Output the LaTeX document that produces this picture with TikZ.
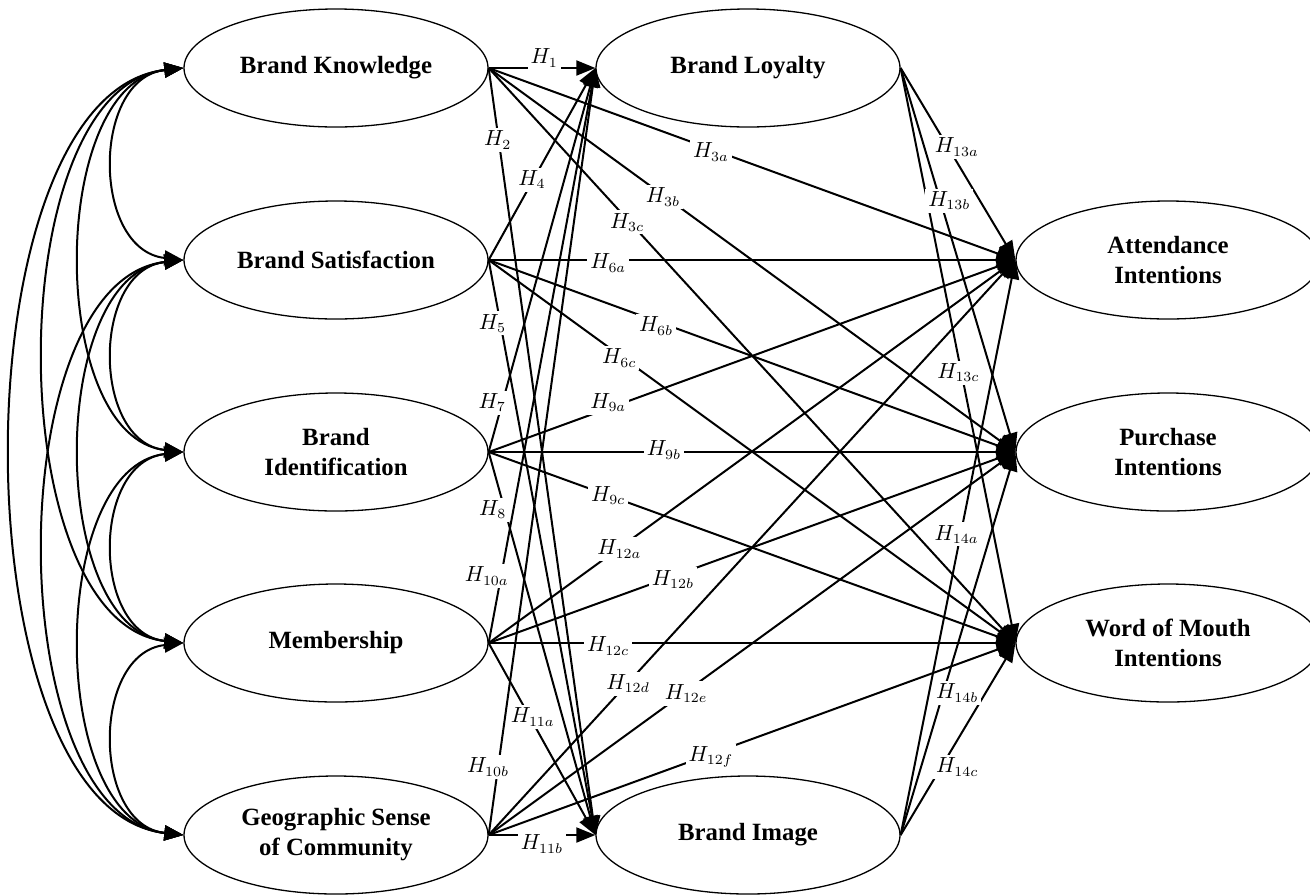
\documentclass[tikz,border=0pt]{standalone}
\usepackage{fontspec}
\setmainfont{Liberation Serif}
\usetikzlibrary{arrows.meta,shapes.geometric}
\begin{document}
\begin{tikzpicture}[x=0.5pt,y=-0.5pt,
  construct/.style={ellipse, draw, line width=0.65pt, minimum width=152pt,
    minimum height=59pt, inner sep=0pt, align=center,
    font=\bfseries\fontsize{12.4}{15}\selectfont},
  hyp/.style={line width=1pt, -{Triangle[length=9.5pt,width=7.5pt]}},
  cov/.style={line width=1pt,
    {Triangle[length=9.5pt,width=7.5pt]}-{Triangle[length=9.5pt,width=7.5pt]}},
  lab/.style={fill=white, inner sep=1.5pt, font=\fontsize{10.5}{12}\selectfont},
]
\useasboundingbox (0,0) rectangle (1310,895);

% constructs
\node[construct] (bk)  at (336,68)  {Brand Knowledge};
\node[construct] (bs)  at (336,260) {Brand Satisfaction};
\node[construct] (bid) at (336,452) {Brand\\Identification};
\node[construct] (mem) at (336,643) {Membership};
\node[construct] (geo) at (336,835) {Geographic Sense\\of Community};
\node[construct] (bl)  at (748,68)  {Brand Loyalty};
\node[construct] (bim) at (748,835) {Brand Image};
\node[construct] (att) at (1168,260) {Attendance\\Intentions};
\node[construct] (pur) at (1168,452) {Purchase\\Intentions};
\node[construct] (wom) at (1168,643) {Word of Mouth\\Intentions};

% correlations among the antecedents
\draw[cov] (bk.west)  .. controls +(-92,10) and +(-92,-10) .. (bs.west);
\draw[cov] (bs.west)  .. controls +(-92,10) and +(-92,-10) .. (bid.west);
\draw[cov] (bid.west) .. controls +(-92,10) and +(-92,-10) .. (mem.west);
\draw[cov] (mem.west) .. controls +(-92,10) and +(-92,-10) .. (geo.west);
\draw[cov] (bk.west)  .. controls +(-136,15) and +(-136,-15) .. (bid.west);
\draw[cov] (bs.west)  .. controls +(-136,15) and +(-136,-15) .. (mem.west);
\draw[cov] (bid.west) .. controls +(-136,15) and +(-136,-15) .. (geo.west);
\draw[cov] (bk.west)  .. controls +(-184,20) and +(-184,-20) .. (mem.west);
\draw[cov] (bs.west)  .. controls +(-184,20) and +(-184,-20) .. (geo.west);
\draw[cov] (bk.west)  .. controls +(-228,25) and +(-228,-25) .. (geo.west);

% hypothesised paths
\draw[hyp] (bk.east) -- coordinate[pos=.52]  (c1)   (bl.west);
\draw[hyp] (bk.east) -- coordinate[pos=.094] (c2)   (bim.west);
\draw[hyp] (bk.east) -- coordinate[pos=.422] (c3a)  (att.west);
\draw[hyp] (bk.east) -- coordinate[pos=.331] (c3b)  (pur.west);
\draw[hyp] (bk.east) -- coordinate[pos=.263] (c3c)  (wom.west);
\draw[hyp] (bs.east) -- coordinate[pos=.407] (c4)   (bl.west);
\draw[hyp] (bs.east) -- coordinate[pos=.11]  (c5)   (bim.west);
\draw[hyp] (bs.east) -- coordinate[pos=.227] (c6a)  (att.west);
\draw[hyp] (bs.east) -- coordinate[pos=.318] (c6b)  (pur.west);
\draw[hyp] (bs.east) -- coordinate[pos=.248] (c6c)  (wom.west);
\draw[hyp] (bid.east) -- coordinate[pos=.128] (c7)  (bl.west);
\draw[hyp] (bid.east) -- coordinate[pos=.151] (c8)  (bim.west);
\draw[hyp] (bid.east) -- coordinate[pos=.227] (c9a) (att.west);
\draw[hyp] (bid.east) -- coordinate[pos=.333] (c9b) (pur.west);
\draw[hyp] (bid.east) -- coordinate[pos=.227] (c9c) (wom.west);
\draw[hyp] (mem.east) -- coordinate[pos=.113] (c10a) (bl.west);
\draw[hyp] (mem.east) -- coordinate[pos=.385] (c11a) (bim.west);
\draw[hyp] (mem.east) -- coordinate[pos=.248] (c12a) (att.west);
\draw[hyp] (mem.east) -- coordinate[pos=.35]  (c12b) (pur.west);
\draw[hyp] (mem.east) -- coordinate[pos=.227] (c12c) (wom.west);
\draw[hyp] (geo.east) -- coordinate[pos=.0887] (c10b) (bl.west);
\draw[hyp] (geo.east) -- coordinate[pos=.5]   (c11b) (bim.west);
\draw[hyp] (geo.east) -- coordinate[pos=.265] (c12d) (att.west);
\draw[hyp] (geo.east) -- coordinate[pos=.375] (c12e) (pur.west);
\draw[hyp] (geo.east) -- coordinate[pos=.422] (c12f) (wom.west);
\draw[hyp] (bl.east)  -- coordinate[pos=.411] (c13a) (att.west);
\draw[hyp] (bl.east)  -- coordinate[pos=.346] (c13b) (pur.west);
\draw[hyp] (bl.east)  -- coordinate[pos=.53]  (c13c) (wom.west);
\draw[hyp] (bim.east) -- coordinate[pos=.523] (c14a) (att.west);
\draw[hyp] (bim.east) -- coordinate[pos=.371] (c14b) (pur.west);
\draw[hyp] (bim.east) -- coordinate[pos=.354] (c14c) (wom.west);

% hypothesis labels
\node[lab, shift={(0,-10)}] (l1)   at (c1)   {$H_{1}$};
\node[lab, shift={(-1,0)}]  (l2)   at (c2)   {$H_{2}$};
\node[lab, shift={(0,3)}]   (l3a)  at (c3a)  {$H_{3a}$};
\node[lab, shift={(0,2)}]   (l3b)  at (c3b)  {$H_{3b}$};
\node[lab, shift={(0,3)}]   (l3c)  at (c3c)  {$H_{3c}$};
\node[lab, shift={(0,-2)}]  (l4)   at (c4)   {$H_{4}$};
\node[lab, shift={(-8,0)}]  (l5)   at (c5)   {$H_{5}$};
\node[lab, shift={(0,3)}]   (l6a)  at (c6a)  {$H_{6a}$};
\node[lab, shift={(0,5)}]   (l6b)  at (c6b)  {$H_{6b}$};
\node[lab, shift={(0,3)}]   (l6c)  at (c6c)  {$H_{6c}$};
\node[lab, shift={(-10,0)}] (l7)   at (c7)   {$H_{7}$};
\node[lab, shift={(-12,0)}] (l8)   at (c8)   {$H_{8}$};
\node[lab, shift={(0,-6)}]  (l9a)  at (c9a)  {$H_{9a}$};
\node[lab, shift={(0,-2)}]  (l9b)  at (c9b)  {$H_{9b}$};
\node[lab]                  (l9c)  at (c9c)  {$H_{9c}$};
\node[lab, shift={(-14,-2)}] (l10a) at (c10a) {$H_{10a}$};
\node[lab, shift={(3,0)}]   (l11a) at (c11a) {$H_{11a}$};
\node[lab, shift={(0,1)}]   (l12a) at (c12a) {$H_{12a}$};
\node[lab, shift={(0,3)}]   (l12b) at (c12b) {$H_{12b}$};
\node[lab, shift={(0,3)}]   (l12c) at (c12c) {$H_{12c}$};
\node[lab, shift={(-10,0)}] (l10b) at (c10b) {$H_{10b}$};
\node[lab, shift={(0,9)}]   (l11b) at (c11b) {$H_{11b}$};
\node[lab, shift={(0,1)}]   (l12d) at (c12d) {$H_{12d}$};
\node[lab, shift={(0,2)}]   (l12e) at (c12e) {$H_{12e}$};
\node[lab, shift={(0,3)}]   (l12f) at (c12f) {$H_{12f}$};
\node[lab, shift={(9,0)}]   (l13a) at (c13a) {$H_{13a}$};
\node[lab, shift={(9,0)}]   (l13b) at (c13b) {$H_{13b}$};
\node[lab, shift={(-3,0)}]  (l13c) at (c13c) {$H_{13c}$};
\node[lab, shift={(-4,0)}]  (l14a) at (c14a) {$H_{14a}$};
\node[lab, shift={(14,0)}]  (l14b) at (c14b) {$H_{14b}$};
\node[lab, shift={(16,0)}]  (l14c) at (c14c) {$H_{14c}$};
\end{tikzpicture}
\end{document}
